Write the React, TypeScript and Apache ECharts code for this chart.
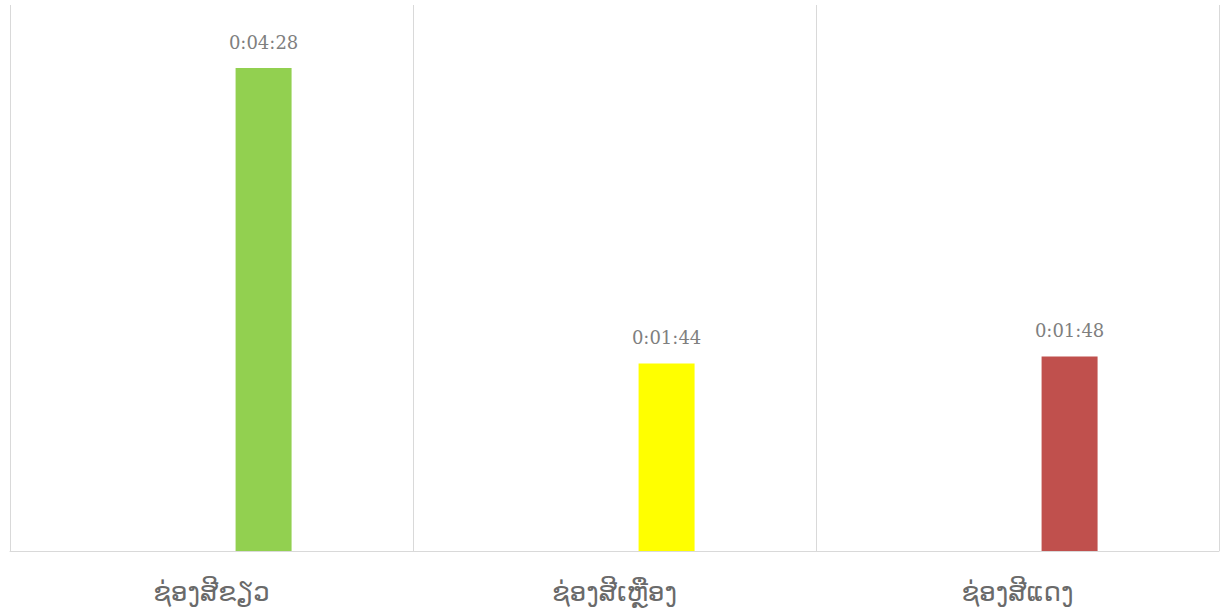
import React, { useEffect, useRef } from "react";
import * as echarts from "echarts";

const categories = ["ຊ່ອງສີຂຽວ", "ຊ່ອງສີເຫຼືອງ", "ຊ່ອງສີແດງ"];
const durationsSec = [268, 104, 108]; // 0:04:28, 0:01:44, 0:01:48
const barColors = ["#92D050", "#FFFF00", "#C0504D"];
const placeholder = [null, null, null];

function fmt(s: number): string {
  const h = Math.floor(s / 3600);
  const m = Math.floor((s % 3600) / 60);
  const sec = Math.round(s % 60);
  return `${h}:${String(m).padStart(2, "0")}:${String(sec).padStart(2, "0")}`;
}

export default function App() {
  const ref = useRef<HTMLDivElement>(null);
  useEffect(() => {
    if (!ref.current) return;
    const chart = echarts.init(ref.current, undefined, { renderer: "svg" });
    chart.setOption({
      animation: false,
      backgroundColor: "#ffffff",
      grid: { left: 10, right: 1, top: 5, bottom: 65, containLabel: false },
      xAxis: {
        type: "category",
        data: categories,
        boundaryGap: true,
        axisLine: { show: true, lineStyle: { color: "#d9d9d9", width: 1 } },
        axisTick: { show: false },
        splitLine: { show: true, lineStyle: { color: "#d9d9d9", width: 1 } },
        axisLabel: {
          color: "#6a6a6a",
          fontSize: 26,
          fontFamily: "'DejaVu Sans', 'Noto Sans', sans-serif",
          margin: 28,
          offset: [-3, 0],
        },
      },
      yAxis: {
        type: "value",
        min: 0,
        max: 303,
        show: false,
        splitLine: { show: false },
      },
      series: [
        {
          type: "bar",
          data: placeholder,
          barWidth: 56,
          barGap: "86%",
          silent: true,
        },
        {
          type: "bar",
          data: durationsSec.map((v, i) => ({ value: v, itemStyle: { color: barColors[i] } })),
          barWidth: 56,
          barGap: "86%",
          label: {
            show: true,
            position: "top",
            distance: 17,
            formatter: (p: any) => fmt(p.value),
            color: "#7f7f7f",
            fontSize: 18,
            fontFamily: "'DejaVu Serif', 'Liberation Serif', serif",
          },
        },
      ],
    });
    return () => chart.dispose();
  }, []);
  return (
    <div
      ref={ref}
      style={{ position: "absolute", left: 0, top: 0, width: 1220, height: 616 }}
    />
  );
}
